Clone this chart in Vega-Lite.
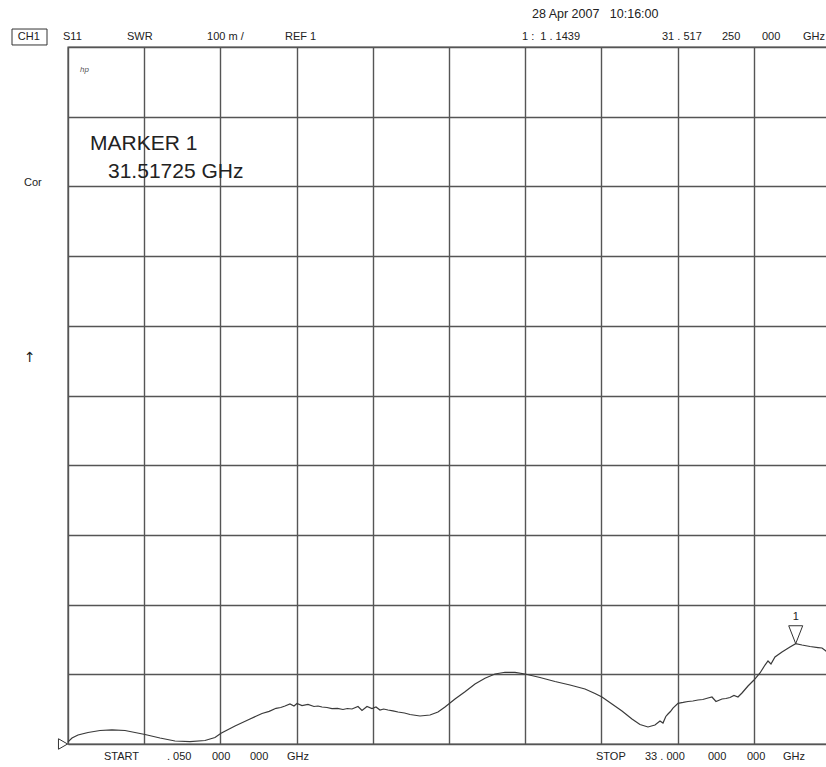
{
  "$schema": "https://vega.github.io/schema/vega-lite/v6.json",
  "width": 762,
  "height": 697,
  "padding": {"left": 68, "top": 47, "right": 0, "bottom": 23},
  "autosize": {"type": "none"},
  "background": "white",
  "config": {
    "view": {"stroke": "#555", "strokeWidth": 1.4},
    "axis": {"domain": false, "ticks": false, "labels": false, "title": null, "grid": true, "gridColor": "#555", "gridWidth": 1.4, "gridOpacity": 1},
    "text": {"font": "Liberation Sans", "color": "#222"}
  },
  "datasets": {
    "trace": [
      {"f": 0.05, "swr": 1.003}, {"f": 0.223, "swr": 1.0086}, {"f": 0.482, "swr": 1.0129}, {"f": 0.915, "swr": 1.0165},
      {"f": 1.434, "swr": 1.0194}, {"f": 1.953, "swr": 1.0204}, {"f": 2.515, "swr": 1.0194}, {"f": 3.38, "swr": 1.0136},
      {"f": 4.028, "swr": 1.0086}, {"f": 4.677, "swr": 1.0043}, {"f": 5.325, "swr": 1.0033}, {"f": 5.974, "swr": 1.005},
      {"f": 6.406, "swr": 1.0093}, {"f": 6.666, "swr": 1.0154}, {"f": 7.271, "swr": 1.0258}, {"f": 7.92, "swr": 1.0359},
      {"f": 8.439, "swr": 1.0438}, {"f": 8.75, "swr": 1.0468}, {"f": 9.044, "swr": 1.0512}, {"f": 9.25, "swr": 1.0524},
      {"f": 9.433, "swr": 1.0545}, {"f": 9.649, "swr": 1.0574},
      {"f": 9.822, "swr": 1.0545}, {"f": 9.952, "swr": 1.0581}, {"f": 10.168, "swr": 1.0552}, {"f": 10.427, "swr": 1.0567},
      {"f": 10.687, "swr": 1.0538}, {"f": 10.86, "swr": 1.0545}, {"f": 11.033, "swr": 1.0531}, {"f": 11.25, "swr": 1.0524},
      {"f": 11.466, "swr": 1.0509}, {"f": 11.7, "swr": 1.0512}, {"f": 11.941, "swr": 1.0495},
      {"f": 12.13, "swr": 1.0509}, {"f": 12.33, "swr": 1.0502}, {"f": 12.59, "swr": 1.0538}, {"f": 12.763, "swr": 1.0481}, {"f": 12.979, "swr": 1.0538},
      {"f": 13.195, "swr": 1.0509}, {"f": 13.368, "swr": 1.0531}, {"f": 13.541, "swr": 1.0488}, {"f": 13.7, "swr": 1.0502}, {"f": 13.887, "swr": 1.0488},
      {"f": 14.1, "swr": 1.0474}, {"f": 14.319, "swr": 1.0459}, {"f": 14.6, "swr": 1.0445}, {"f": 14.838, "swr": 1.0423}, {"f": 15.27, "swr": 1.0402}, {"f": 15.703, "swr": 1.0416},
      {"f": 16.049, "swr": 1.0459}, {"f": 16.352, "swr": 1.0531}, {"f": 16.784, "swr": 1.0646}, {"f": 17.217, "swr": 1.075},
      {"f": 17.649, "swr": 1.0861}, {"f": 18.081, "swr": 1.0943}, {"f": 18.514, "swr": 1.1004}, {"f": 18.946, "swr": 1.1029},
      {"f": 19.378, "swr": 1.1027}, {"f": 19.811, "swr": 1.1004}, {"f": 20.459, "swr": 1.0954}, {"f": 21.108, "swr": 1.0897},
      {"f": 21.757, "swr": 1.0846}, {"f": 22.405, "swr": 1.0789}, {"f": 22.838, "swr": 1.0725}, {"f": 23.14, "swr": 1.0674},
      {"f": 23.573, "swr": 1.0574}, {"f": 24.005, "swr": 1.0473}, {"f": 24.437, "swr": 1.0359}, {"f": 24.783, "swr": 1.028},
      {"f": 25.129, "swr": 1.0244}, {"f": 25.432, "swr": 1.0273}, {"f": 25.648, "swr": 1.033}, {"f": 25.778, "swr": 1.0301},
      {"f": 25.9, "swr": 1.0395}, {"f": 25.994, "swr": 1.043}, {"f": 26.1, "swr": 1.0466}, {"f": 26.21, "swr": 1.0516}, {"f": 26.427, "swr": 1.0584}, {"f": 26.65, "swr": 1.0596}, {"f": 26.859, "swr": 1.061},
      {"f": 27.07, "swr": 1.0617}, {"f": 27.291, "swr": 1.0631}, {"f": 27.5, "swr": 1.0638}, {"f": 27.724, "swr": 1.066}, {"f": 27.897, "swr": 1.0674}, {"f": 28.07, "swr": 1.061},
      {"f": 28.329, "swr": 1.0646}, {"f": 28.5, "swr": 1.0653}, {"f": 28.675, "swr": 1.0667}, {"f": 28.848, "swr": 1.0696}, {"f": 29.021, "swr": 1.0674},
      {"f": 29.194, "swr": 1.0732}, {"f": 29.454, "swr": 1.0832}, {"f": 29.713, "swr": 1.0918}, {"f": 29.973, "swr": 1.1019},
      {"f": 30.189, "swr": 1.1133}, {"f": 30.319, "swr": 1.1191}, {"f": 30.448, "swr": 1.1148}, {"f": 30.621, "swr": 1.1248},
      {"f": 30.924, "swr": 1.132}, {"f": 31.27, "swr": 1.1392}, {"f": 31.517, "swr": 1.1439}, {"f": 31.789, "swr": 1.142},
      {"f": 32.135, "swr": 1.1399}, {"f": 32.481, "swr": 1.1384}, {"f": 32.654, "swr": 1.1377}, {"f": 32.827, "swr": 1.1334},
      {"f": 33.0, "swr": 1.1263}
    ],
    "labels": [
      {"group": "small", "f": -2.12, "swr": 2.0145, "text": "CH1"},
      {"group": "small", "f": -0.166, "swr": 2.0145, "text": "S11"},
      {"group": "small", "f": 2.601, "swr": 2.0145, "text": "SWR"},
      {"group": "small", "f": 6.061, "swr": 2.0145, "text": "100 m /"},
      {"group": "small", "f": 9.433, "swr": 2.0145, "text": "REF 1"},
      {"group": "small", "f": 19.681, "swr": 2.0145, "text": "1 :\u00a0\u00a01 .\u00a01439"},
      {"group": "small", "f": 25.735, "swr": 2.0145, "text": "31 . 517"},
      {"group": "small", "f": 28.33, "swr": 2.0145, "text": "250"},
      {"group": "small", "f": 30.059, "swr": 2.0145, "text": "000"},
      {"group": "small", "f": 31.832, "swr": 2.0145, "text": "GHz"},
      {"group": "small", "f": -1.853, "swr": 1.8049, "text": "Cor"},
      {"group": "arrow", "f": -1.853, "swr": 1.5538, "text": "↑"},
      {"group": "small", "f": 1.607, "swr": 0.9813, "text": "START"},
      {"group": "small", "f": 4.331, "swr": 0.9813, "text": ". 050"},
      {"group": "small", "f": 6.277, "swr": 0.9813, "text": "000"},
      {"group": "small", "f": 7.92, "swr": 0.9813, "text": "000"},
      {"group": "small", "f": 9.52, "swr": 0.9813, "text": "GHz"},
      {"group": "small", "f": 22.881, "swr": 0.9813, "text": "STOP"},
      {"group": "small", "f": 25.0, "swr": 0.9813, "text": "33 . 000"},
      {"group": "small", "f": 27.724, "swr": 0.9813, "text": "000"},
      {"group": "small", "f": 29.411, "swr": 0.9813, "text": "000"},
      {"group": "small", "f": 30.967, "swr": 0.9813, "text": "GHz"},
      {"group": "date", "f": 20.114, "swr": 2.0473, "text": "28 Apr 2007\u00a0\u00a0\u00a010:16:00"},
      {"group": "big", "f": 1.001, "swr": 1.8608, "text": "MARKER 1"},
      {"group": "big", "f": 1.78, "swr": 1.8207, "text": "31.51725 GHz"},
      {"group": "hp", "f": 0.569, "swr": 1.967, "text": "hp"},
      {"group": "mk", "f": 31.517, "swr": 1.1822, "text": "1"}
    ],
    "box": [{"f": -2.371, "f2": -0.858, "swr": 2.0258, "swr2": 2.0029}],
    "marker": [{"f": 31.517, "swr": 1.1439}],
    "ref": [{"f": 0.05, "swr": 1.0}]
  },
  "layer": [
    {
      "data": {"name": "trace"},
      "mark": {"type": "line", "color": "#3a3a3a", "strokeWidth": 1.2, "interpolate": "linear"},
      "encoding": {
        "x": {"field": "f", "type": "quantitative",
              "scale": {"domain": [0.05, 33], "nice": false, "zero": false},
              "axis": {"values": [0.05, 3.345, 6.64, 9.935, 13.23, 16.525, 19.82, 23.115, 26.41, 29.705, 33.0]}},
        "y": {"field": "swr", "type": "quantitative",
              "scale": {"domain": [1, 2], "nice": false, "zero": false},
              "axis": {"values": [1.0, 1.1, 1.2, 1.3, 1.4, 1.5, 1.6, 1.7, 1.8, 1.9, 2.0]}}
      }
    },
    {
      "data": {"name": "box"},
      "mark": {"type": "rect", "fill": null, "stroke": "#333", "strokeWidth": 1},
      "encoding": {
        "x": {"field": "f", "type": "quantitative"},
        "x2": {"field": "f2"},
        "y": {"field": "swr", "type": "quantitative"},
        "y2": {"field": "swr2"}
      }
    },
    {
      "data": {"name": "labels"},
      "transform": [{"filter": "datum.group === 'small'"}],
      "mark": {"type": "text", "align": "left", "baseline": "middle", "fontSize": 11},
      "encoding": {
        "x": {"field": "f", "type": "quantitative"},
        "y": {"field": "swr", "type": "quantitative"},
        "text": {"field": "text"}
      }
    },
    {
      "data": {"name": "labels"},
      "transform": [{"filter": "datum.group === 'arrow'"}],
      "mark": {"type": "text", "align": "left", "baseline": "middle", "fontSize": 14, "font": "DejaVu Sans"},
      "encoding": {
        "x": {"field": "f", "type": "quantitative"},
        "y": {"field": "swr", "type": "quantitative"},
        "text": {"field": "text"}
      }
    },
    {
      "data": {"name": "labels"},
      "transform": [{"filter": "datum.group === 'date'"}],
      "mark": {"type": "text", "align": "left", "baseline": "middle", "fontSize": 12.5},
      "encoding": {
        "x": {"field": "f", "type": "quantitative"},
        "y": {"field": "swr", "type": "quantitative"},
        "text": {"field": "text"}
      }
    },
    {
      "data": {"name": "labels"},
      "transform": [{"filter": "datum.group === 'big'"}],
      "mark": {"type": "text", "align": "left", "baseline": "middle", "fontSize": 21},
      "encoding": {
        "x": {"field": "f", "type": "quantitative"},
        "y": {"field": "swr", "type": "quantitative"},
        "text": {"field": "text"}
      }
    },
    {
      "data": {"name": "labels"},
      "transform": [{"filter": "datum.group === 'hp'"}],
      "mark": {"type": "text", "align": "left", "baseline": "middle", "fontSize": 8, "fontStyle": "italic", "color": "#555"},
      "encoding": {
        "x": {"field": "f", "type": "quantitative"},
        "y": {"field": "swr", "type": "quantitative"},
        "text": {"field": "text"}
      }
    },
    {
      "data": {"name": "labels"},
      "transform": [{"filter": "datum.group === 'mk'"}],
      "mark": {"type": "text", "align": "center", "baseline": "middle", "fontSize": 11},
      "encoding": {
        "x": {"field": "f", "type": "quantitative"},
        "y": {"field": "swr", "type": "quantitative"},
        "text": {"field": "text"}
      }
    },
    {
      "data": {"name": "marker"},
      "mark": {"type": "point", "shape": "M-1,-1.28L1,-1.28L0,1.28Z", "filled": false, "stroke": "#333", "strokeWidth": 1, "size": 196, "yOffset": -9, "opacity": 1},
      "encoding": {
        "x": {"field": "f", "type": "quantitative"},
        "y": {"field": "swr", "type": "quantitative"}
      }
    },
    {
      "data": {"name": "ref"},
      "mark": {"type": "point", "shape": "triangle-right", "filled": false, "stroke": "#333", "strokeWidth": 1, "size": 110, "xOffset": -5, "opacity": 1},
      "encoding": {
        "x": {"field": "f", "type": "quantitative"},
        "y": {"field": "swr", "type": "quantitative"}
      }
    }
  ]
}
